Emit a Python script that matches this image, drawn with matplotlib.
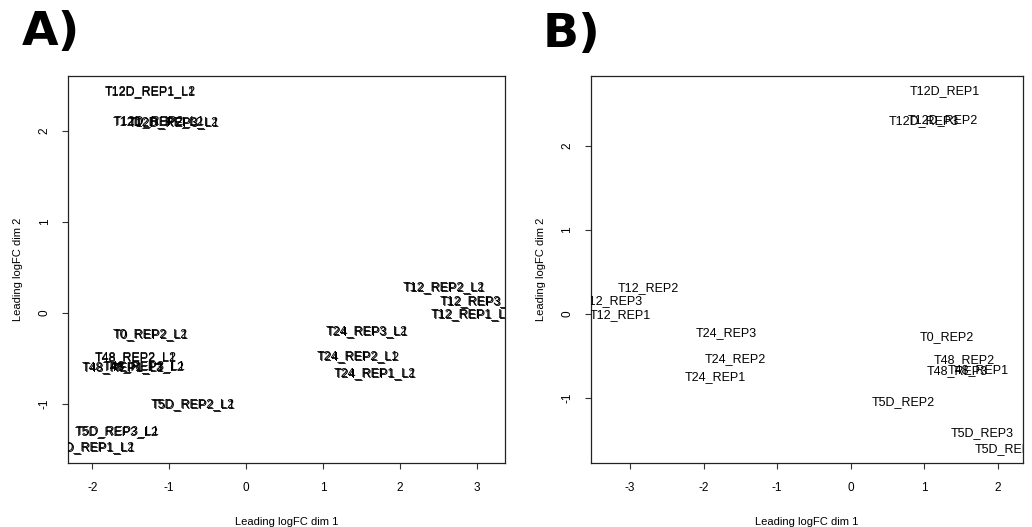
import matplotlib
matplotlib.use("Agg")
import matplotlib.pyplot as plt

plt.rcParams['font.family'] = ['Liberation Sans', 'DejaVu Sans']
plt.rcParams['axes.unicode_minus'] = False

# Panel A: MDS of lane-level libraries (L1 and L2 lanes sit almost on top of each other)
samples_a = ["T12D_REP1", "T12D_REP2", "T12D_REP3", "T12_REP2", "T12_REP3", "T12_REP1",
             "T0_REP2", "T24_REP3", "T24_REP2", "T24_REP1", "T48_REP2", "T48_REP1",
             "T48_REP3", "T5D_REP2", "T5D_REP3", "T5D_REP1"]
x_a_l2 = [-1.25, -1.14, -0.95, 2.57, 3.05, 2.94,
          -1.24, 1.57, 1.46, 1.68, -1.44, -1.60,
          -1.33, -0.69, -1.68, -1.99]
y_a_l2 = [2.43, 2.09, 2.09, 0.28, 0.13, -0.01,
          -0.23, -0.20, -0.49, -0.66, -0.49, -0.60,
          -0.60, -1.00, -1.31, -1.48]
x_a_l1 = [-1.24, -1.13, -0.94, 2.58, 3.06, 2.95,
          -1.23, 1.58, 1.45, 1.69, -1.43, -1.59,
          -1.32, -0.68, -1.67, -1.98]
y_a_l1 = [2.42, 2.10, 2.08, 0.27, 0.12, -0.02,
          -0.24, -0.21, -0.48, -0.67, -0.50, -0.61,
          -0.59, -1.01, -1.30, -1.49]

# Panel B: MDS of merged samples
samples_b = ["T12D_REP1", "T12D_REP2", "T12D_REP3", "T12_REP2", "T12_REP3", "T12_REP1",
             "T24_REP3", "T24_REP2", "T24_REP1", "T0_REP2", "T48_REP2", "T48_REP3",
             "T48_REP1", "T5D_REP2", "T5D_REP3", "T5D_REP1"]
x_b = [1.28, 1.25, 0.99, -2.75, -3.24, -3.13,
       -1.69, -1.57, -1.84, 1.31, 1.55, 1.45,
       1.74, 0.72, 1.79, 2.12]
y_b = [2.65, 2.31, 2.29, 0.31, 0.15, -0.02,
       -0.23, -0.54, -0.76, -0.28, -0.55, -0.69,
       -0.67, -1.05, -1.42, -1.61]

fig = plt.figure(figsize=(10.32, 5.27), dpi=100)
ax_a = fig.add_axes([0.0659, 0.1214, 0.4234, 0.7343])
ax_b = fig.add_axes([0.5724, 0.1214, 0.4189, 0.7343])


def style_axes(ax, xlim, ylim, xticks, yticks):
    ax.set_xlim(*xlim)
    ax.set_ylim(*ylim)
    ax.set_xticks(xticks)
    ax.set_yticks(yticks)
    ax.set_xticklabels([str(t) for t in xticks])
    ax.set_yticklabels([str(t) for t in yticks], rotation=90, va='center')
    ax.tick_params(direction='out', length=4.5, width=0.8, labelsize=8.5, color='#333333')
    ax.tick_params(axis='x', pad=9)
    ax.tick_params(axis='y', pad=8)
    for s in ax.spines.values():
        s.set_linewidth(0.9)
        s.set_color('#222222')
    ax.set_xlabel("Leading logFC dim 1", fontsize=8, labelpad=17)
    ax.set_ylabel("Leading logFC dim 2", fontsize=8, labelpad=11)


for name, x1, y1, x2, y2 in zip(samples_a, x_a_l1, y_a_l1, x_a_l2, y_a_l2):
    ax_a.text(x1, y1, name + "_L1", ha='center', va='center', fontsize=9, clip_on=True)
    ax_a.text(x2, y2, name + "_L2", ha='center', va='center', fontsize=9, clip_on=True)
style_axes(ax_a, (-2.316, 3.368), (-1.65, 2.60), [-2, -1, 0, 1, 2, 3], [-1, 0, 1, 2])

for name, x, y in zip(samples_b, x_b, y_b):
    ax_b.text(x, y, name, ha='center', va='center', fontsize=9, clip_on=True)
style_axes(ax_b, (-3.535, 2.344), (-1.78, 2.83), [-3, -2, -1, 0, 1, 2], [-1, 0, 1, 2])

fig.text(0.021, 0.915, "A)", fontsize=34, fontweight='bold', family='DejaVu Sans')
fig.text(0.526, 0.91, "B)", fontsize=34, fontweight='bold', family='DejaVu Sans')

fig.savefig("out.png", dpi=100)
